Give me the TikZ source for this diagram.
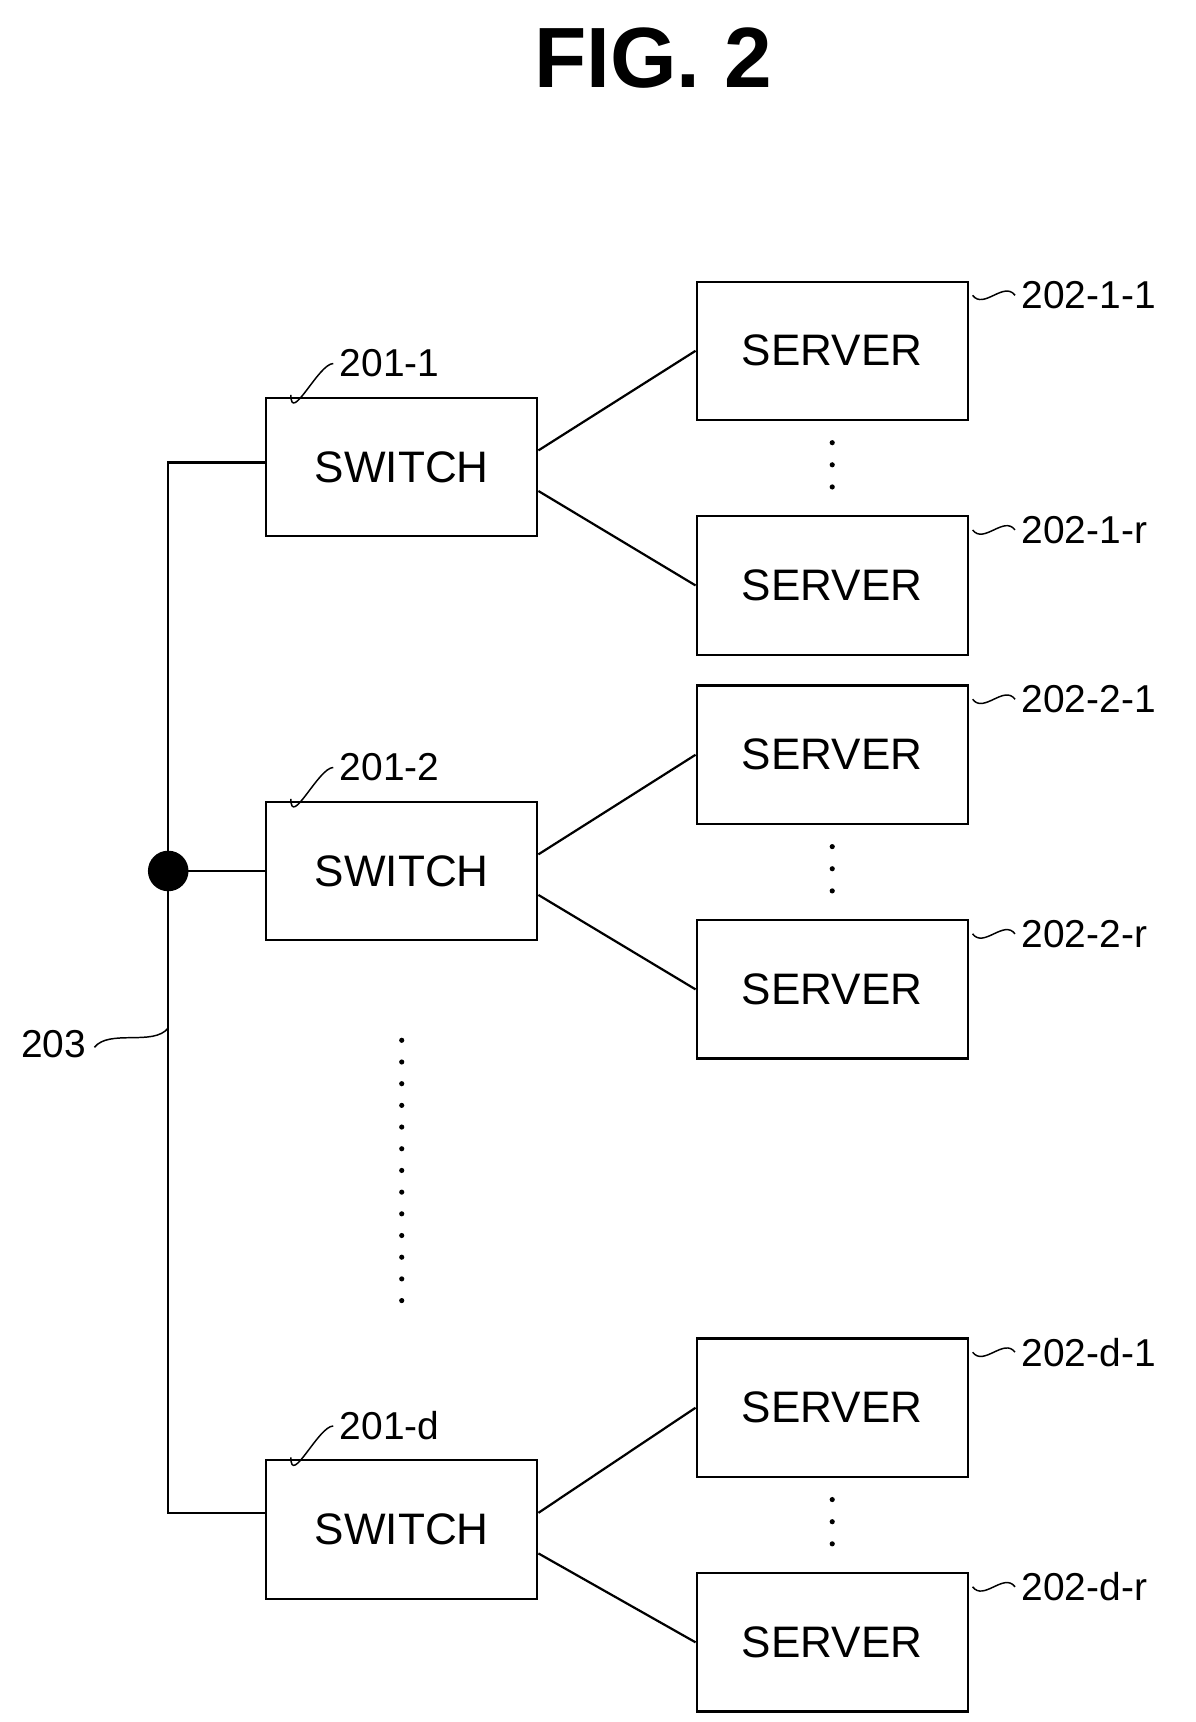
\documentclass[tikz,border=0pt]{standalone}
\usepackage{fontspec}
\setmainfont{Liberation Sans}
\begin{document}
\begin{tikzpicture}[x=0.3mm,y=-0.3mm,line width=0.6mm,
  box/.style={draw,minimum width=73.5mm,minimum height=37.5mm,font=\fontsize{34}{38}\selectfont,inner sep=0},
  lbl/.style={font=\fontsize{30}{34}\selectfont,anchor=west,inner sep=0},
  dotc/.style={fill,circle,inner sep=0,minimum size=1.4mm}]
\useasboundingbox (0,0) rectangle (1080,1556);
\node[font=\bfseries\fontsize{66}{70}\selectfont] (title) at (590,52) {FIG. 2};
% switches
\node[box] (s1) at (363,422) {SWITCH};
\node[box] (s2) at (363,787) {SWITCH};
\node[box] (sd) at (363,1382) {SWITCH};
% servers
\foreach \n/\y in {a1/317,ar/529,b1/682,br/894,d1/1272,dr/1484}
  \node[box] (\n) at (752,\y) {SERVER};
% bus
\coordinate (t) at (152,418);
\coordinate (b) at (152,1367);
\coordinate (m) at (152,787);
\draw (s1.west|-t) -- (t) -- (b) -- (sd.west|-b);
\draw (m) -- (s2.west);
\node[fill,circle,inner sep=0,minimum size=11mm] (dot) at (m) {};
% switch-server links
\foreach \s/\u/\l in {s1/a1/ar,s2/b1/br,sd/d1/dr}{
  \draw ([yshift=4.5mm]\s.east) -- (\u.west);
  \draw ([yshift=-6.5mm]\s.east) -- (\l.west);}
% dots between servers
\foreach \y in {400,420,440}{\node[dotc] at (752,\y) {};}
\foreach \y in {765,785,805}{\node[dotc] at (752,\y) {};}
\foreach \y in {1355,1375,1395}{\node[dotc] at (752,\y) {};}
\foreach \i in {0,...,12}{\node[dotc] at (363,940+\i*19.6) {};}
% switch labels
\foreach \s/\t in {s1/201-1,s2/201-2,sd/201-d}{
  \node[lbl] (L\s) at ([xshift=20mm,yshift=9mm]\s.north west) {\t};
  \draw[line width=0.4mm] ([xshift=7mm,yshift=0.5mm]\s.north west) .. controls +(0,-8mm) and +(-4mm,0) .. ([xshift=-1.5mm]L\s.west);}
% server labels
\foreach \n/\t in {a1/202-1-1,ar/202-1-r,b1/202-2-1,br/202-2-r,d1/202-d-1,dr/202-d-r}{
  \node[lbl] (L\n) at ([xshift=14mm,yshift=-4mm]\n.north east) {\t};
  \draw[line width=0.4mm] ([xshift=1mm,yshift=-4mm]\n.north east) .. controls +(3mm,-4mm) and +(-3mm,4mm) .. ([xshift=-1.5mm,yshift=0mm]L\n.west);}
\node[lbl] (L203) at (18,943) {203};
\draw[line width=0.4mm] ([xshift=2mm,yshift=-1mm]L203.east) .. controls +(4mm,5mm) and +(-4mm,-5mm) .. ([yshift=12]t|-L203.east);
\end{tikzpicture}
\end{document}
